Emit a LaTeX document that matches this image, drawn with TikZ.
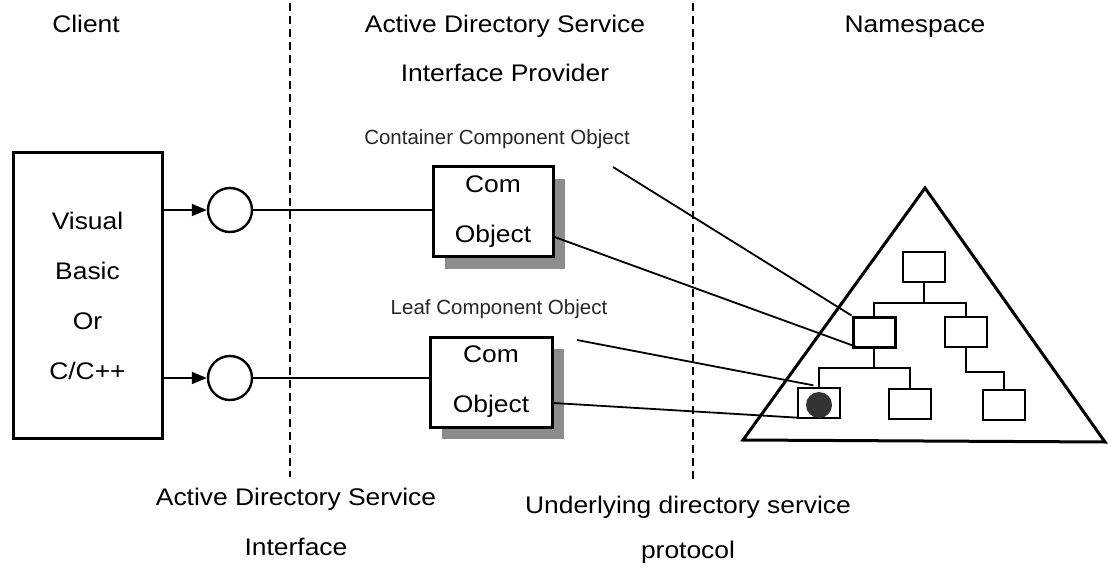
\documentclass[tikz,border=0pt]{standalone}
\usepackage{fontspec}
\setmainfont{Liberation Sans}
\newfontfamily\bigf[FakeStretch=1.1]{Liberation Sans}
\usetikzlibrary{arrows.meta,shadows,calc}
\begin{document}
\begin{tikzpicture}[x=1pt,y=-1pt,
  bigtext/.style={font=\bigf\fontsize{24}{50}\selectfont, inner sep=0pt},
  smalltext/.style={font=\fontsize{20.5}{24}\selectfont, text=black!85, inner sep=0pt},
  divider/.style={line width=1.3pt, dash pattern=on 8pt off 5pt},
  thinline/.style={line width=1.8pt},
  combox/.style={draw, line width=3pt, fill=white, minimum width=120pt, minimum height=90pt,
    align=center, font=\bigf\fontsize{24}{50}\selectfont,
    drop shadow={shadow xshift=12pt, shadow yshift=-12pt, fill=black!45, opacity=1}},
  port/.style={draw, circle, line width=2.4pt, minimum size=44pt, inner sep=0pt},
  treebox/.style={draw, line width=1.3pt, minimum width=42pt, minimum height=30pt, inner sep=0pt},
  tip/.style={-{Triangle[length=15pt,width=12pt]}}
]
\useasboundingbox (0,0) rectangle (1108,569);

% dividers
\coordinate (d1t) at (290,3); \coordinate (d1b) at (290,477);
\coordinate (d2t) at (693,3); \coordinate (d2b) at (693,480);
\draw[divider] (d1t) -- (d1b);
\draw[divider] (d2t) -- (d2b);

% titles
\node[bigtext, anchor=base] (tclient) at (86,33) {Client};
\node[bigtext, anchor=base] (tads1) at (505,33) {Active Directory Service};
\node[bigtext, anchor=base] (tads2) at (505,82) {Interface Provider};
\node[bigtext, anchor=base] (tns) at (915,33) {Namespace};

% bottom labels
\node[bigtext, anchor=base] (badsi1) at (296,505) {Active Directory Service};
\node[bigtext, anchor=base] (badsi2) at (296,555) {Interface};
\node[bigtext, anchor=base] (budp1) at (688,513) {Underlying directory service};
\node[bigtext, anchor=base] (budp2) at (688,558) {protocol};

% small labels
\node[smalltext, anchor=base] (lcont) at (497,145) {Container Component Object};
\node[smalltext, anchor=base] (lleaf) at (499,315) {Leaf Component Object};

% client
\node[draw, line width=3pt, minimum width=149pt, minimum height=285pt, align=center,
  font=\bigf\fontsize{24}{50}\selectfont] (client) at (87.5,295.5) {Visual\\Basic\\Or\\C/C++};

% ports
\node[port] (p1) at (230,210) {};
\node[port] (p2) at (230,378) {};
\draw[thinline, tip] (client.east |- p1) -- (p1.west);
\draw[thinline, tip] (client.east |- p2) -- (p2.west);

% com objects
\node[combox] (com1) at (493,212) {Com\\Object};
\node[combox, minimum width=122pt] (com2) at (491,382) {Com\\Object};
\draw[thinline] (p1.east) -- (com1.west |- p1);
\draw[thinline] (p2.east) -- (com2.west |- p2);

% namespace triangle
\coordinate (apex) at (925,188);
\coordinate (bl) at (743,440);
\coordinate (br) at (1105,442);
\draw[line width=3pt, line join=miter] (apex) -- (bl) -- (br) -- cycle;

% tree
\node[treebox] (t0) at (924,267) {};
\node[treebox, line width=3pt] (tc) at (874,332) {};
\node[treebox] (tr) at (966,332) {};
\node[treebox] (tl) at (819,403) {};
\node[treebox] (tm) at (910,404) {};
\node[treebox] (tb) at (1004,405) {};
\coordinate (j0) at (924,303);
\coordinate (j1) at (874,368);
\coordinate (j2) at (966,372);
\draw[line width=1.3pt] (t0.south) -- (j0);
\draw[line width=1.3pt] (tc.north) |- (j0) -| (tr.north);
\draw[line width=1.3pt] (tc.south) -- (j1);
\draw[line width=1.3pt] (tl.north) |- (j1) -| (tm.north);
\draw[line width=1.3pt] (tr.south) -- (j2) -| (tb.north);
\fill[black!80] (tl.center) ++(0,2) circle (13);

% pointers
\coordinate (lcs) at (613,167);
\coordinate (lls) at (577,340);
\draw[thinline] (lcs) -- (tc.north west);
\draw[thinline] ($(com1.east)+(0,25)$) -- ($(tc.south west)+(4,-2)$);
\draw[thinline] (lls) -- ($(tl.north west)+(16,-2)$);
\draw[thinline] ($(com2.east)+(0,21)$) -- ($(tl.south west)+(0,-1)$);
\end{tikzpicture}
\end{document}
